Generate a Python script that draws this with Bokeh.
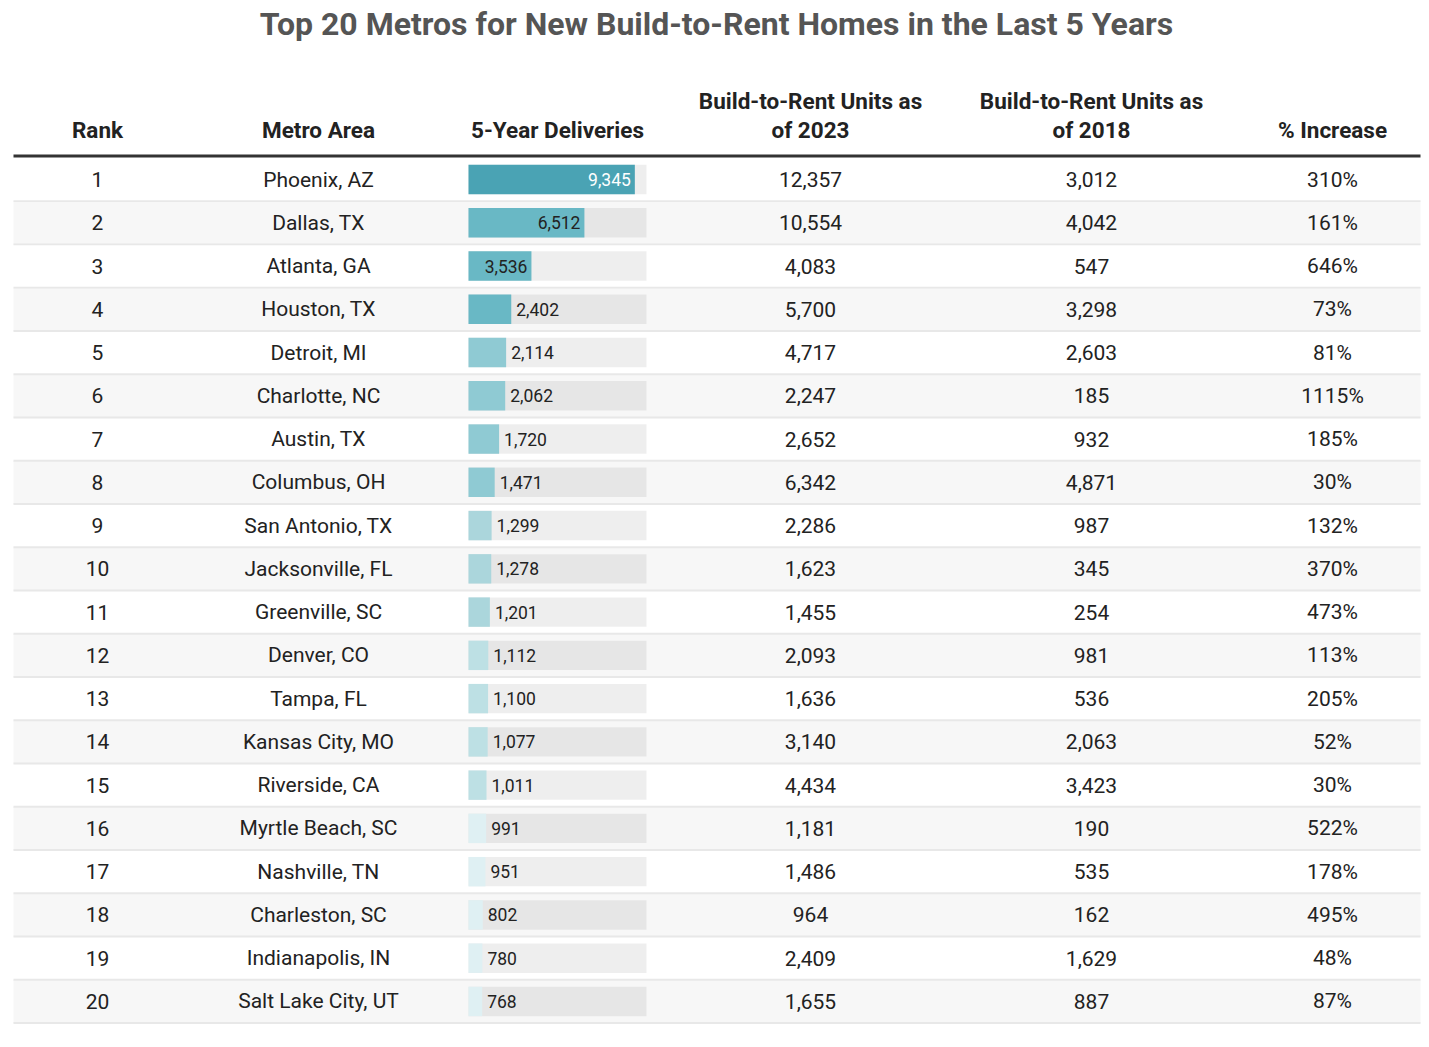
from bokeh.plotting import figure
from bokeh.models import ColumnDataSource, Range1d
from bokeh.core.properties import value
from bokeh.embed import file_html
from bokeh.resources import INLINE

# ---------------- data ----------------
title_text = "Top 20 Metros for New Build-to-Rent Homes in the Last 5 Years"
headers = ["Rank", "Metro Area", "5-Year Deliveries",
           "Build-to-Rent Units as\nof 2023", "Build-to-Rent Units as\nof 2018", "% Increase"]
ranks = list(range(1, 21))
metros = ["Phoenix, AZ", "Dallas, TX", "Atlanta, GA", "Houston, TX", "Detroit, MI",
          "Charlotte, NC", "Austin, TX", "Columbus, OH", "San Antonio, TX", "Jacksonville, FL",
          "Greenville, SC", "Denver, CO", "Tampa, FL", "Kansas City, MO", "Riverside, CA",
          "Myrtle Beach, SC", "Nashville, TN", "Charleston, SC", "Indianapolis, IN",
          "Salt Lake City, UT"]
deliveries = [9345, 6512, 3536, 2402, 2114, 2062, 1720, 1471, 1299, 1278,
              1201, 1112, 1100, 1077, 1011, 991, 951, 802, 780, 768]
units_2023 = [12357, 10554, 4083, 5700, 4717, 2247, 2652, 6342, 2286, 1623,
              1455, 2093, 1636, 3140, 4434, 1181, 1486, 964, 2409, 1655]
units_2018 = [3012, 4042, 547, 3298, 2603, 185, 932, 4871, 987, 345,
              254, 981, 536, 2063, 3423, 190, 535, 162, 1629, 887]
pct_increase = [310, 161, 646, 73, 81, 1115, 185, 30, 132, 370,
                473, 113, 205, 52, 30, 522, 178, 495, 48, 87]
bar_max = 10000

# ---------------- layout (picture pixel coordinates) ----------------
W, H = 1421, 1031
FONT = value("Roboto")
TABLE_L, TABLE_R = 13, 1420
ROW1_Y, ROW_STEP = 179.0, 43.26
BAR_L, BAR_R = 468, 646
col_x = [97, 318, 557, 810, 1091, 1332]

p = figure(width=W, height=H, output_backend="svg", toolbar_location=None,
           x_range=Range1d(0, W), y_range=Range1d(H, 0),
           min_border=0, background_fill_color="white", border_fill_color="white")
p.axis.visible = False
p.grid.visible = False
p.outline_line_color = None

# extra range: rank -> row centre
t = 1 - ROW1_Y / ROW_STEP
u = t + H / ROW_STEP
p.extra_y_ranges = {"rows": Range1d(u, t)}
# extra range: deliveries -> bar column
span = bar_max * W / (BAR_R - BAR_L)
s = -BAR_L / W * span
p.extra_x_ranges = {"bar": Range1d(s, s + span)}

def fmt(v):
    return f"{v:,}"

def bar_color(v):
    if v >= 9000: return "#4aa3b4"
    if v >= 2200: return "#69b8c5"
    if v >= 1400: return "#8fcad3"
    if v >= 1150: return "#abd6dc"
    if v >= 1000: return "#bde0e4"
    return "#dff0f3"

src = ColumnDataSource(dict(
    rank=ranks, rank_s=[str(r) for r in ranks], metro=metros,
    deliv=deliveries, u23=[fmt(v) for v in units_2023], u18=[fmt(v) for v in units_2018],
    pct=[f"{v}%" for v in pct_increase],
    bg=["#f7f7f7" if r % 2 == 0 else "#ffffff" for r in ranks],
    color=[bar_color(v) for v in deliveries],
    zero=[0] * len(ranks), full=[bar_max] * len(ranks),
    sep=[r + 0.5 for r in ranks],
))

# row backgrounds
p.hbar(y="rank", left=TABLE_L, right=TABLE_R, height=1.0, fill_color="bg",
       line_color=None, source=src, y_range_name="rows")
# row separators
p.hbar(y="sep", left=TABLE_L, right=TABLE_R, height=0.045, fill_color="#e8e8e8",
       line_color=None, source=src, y_range_name="rows")

# bar tracks + bars
p.hbar(y="rank", left="zero", right="full", height=0.68, fill_color="black", fill_alpha=0.065,
       line_color=None, source=src, y_range_name="rows", x_range_name="bar")
p.hbar(y="rank", left="zero", right="deliv", height=0.68, fill_color="color",
       line_color=None, source=src, y_range_name="rows", x_range_name="bar")

# bar labels
inside = [i for i, v in enumerate(deliveries) if v / bar_max * (BAR_R - BAR_L) >= 50]
outside = [i for i in range(len(deliveries)) if i not in inside]
in_src = ColumnDataSource(dict(
    y=[ranks[i] for i in inside], x=[deliveries[i] for i in inside],
    t=[fmt(deliveries[i]) for i in inside],
    c=["#ffffff" if deliveries[i] >= 9000 else "#222222" for i in inside]))
out_src = ColumnDataSource(dict(
    y=[ranks[i] for i in outside], x=[deliveries[i] for i in outside],
    t=[fmt(deliveries[i]) for i in outside]))
p.text(x="x", y="y", text="t", source=in_src, x_offset=-4, text_align="right",
       text_baseline="middle", text_font=FONT, text_font_size="17.5px", text_color="c",
       y_range_name="rows", x_range_name="bar")
p.text(x="x", y="y", text="t", source=out_src, x_offset=5, text_align="left",
       text_baseline="middle", text_font=FONT, text_font_size="17.5px", text_color="#222222",
       y_range_name="rows", x_range_name="bar")

# cell text
for cx, field in zip([col_x[0], col_x[1], col_x[3], col_x[4], col_x[5]],
                     ["rank_s", "metro", "u23", "u18", "pct"]):
    p.text(x=cx, y="rank", text=field, source=src, text_align="center",
           text_baseline="middle", text_font=FONT, text_font_size="21px",
           text_color="#222222", y_range_name="rows")

# header
for cx, h in zip(col_x, headers):
    lines = h.split("\n")
    ys = [129] if len(lines) == 1 else [100, 129]
    for yy, ln in zip(ys, lines):
        p.text(x=[cx], y=[yy], text=[ln], text_align="center", text_baseline="middle",
               text_font=FONT, text_font_size="22.5px", text_font_style="bold",
               text_color="#222222")
p.segment(x0=[TABLE_L], x1=[TABLE_R], y0=[155.5], y1=[155.5], line_color="#333333", line_width=3)

# title
p.text(x=[716], y=[23], text=[title_text], text_align="center", text_baseline="middle",
       text_font=FONT, text_font_size="32px", text_font_style="bold", text_color="#555555")

open("out.html", "w").write(file_html(p, INLINE))
